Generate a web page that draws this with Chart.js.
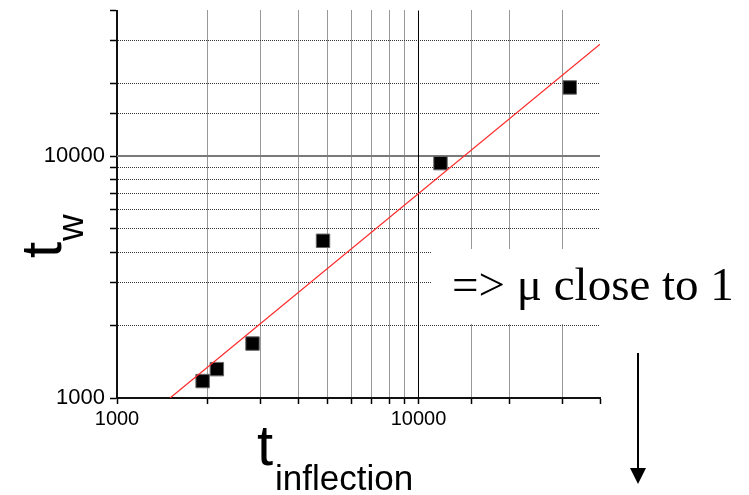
<!DOCTYPE html>
<html>
<head>
<meta charset="utf-8">
<script src="https://cdn.jsdelivr.net/npm/chart.js@4"></script>
<style>
    html, body { margin: 0; padding: 0; background: #fff; }
    canvas { display: block; }
</style>
</head>
<body>
<canvas id="twChart" width="749" height="495"></canvas>
<script>
// t_inflection vs t_w, log-log
const tInflection = [1923, 2144, 2815, 4823, 11830, 31750];
const tW = [1175, 1316, 1679, 4467, 9355, 19230];

// red fit line end points
const fitX = [1500, 40000];
const fitY = [1000, 29000];

const labeledTicks = [1000, 10000];
const axisMin = 1000;
const axisMax = 40000;

const gridColor = (ctx) => {
    const v = ctx.tick ? ctx.tick.value : null;
    if (v === axisMax || v === 10000) return "rgba(0,0,0,0)";
    return "#333";
};

const tickLabel = (value) => (labeledTicks.includes(value) ? String(value) : "");

const overlayPlugin = {
    id: "overlay",
    beforeDatasetsDraw(chart) {
        const { ctx, chartArea, scales } = chart;
        const xPos = scales.x.getPixelForValue(10000);
        const yPos = scales.y.getPixelForValue(10000);
        ctx.save();
        // solid decade lines
        ctx.strokeStyle = "#7a7a7a";
        ctx.lineWidth = 2;
        ctx.beginPath();
        ctx.moveTo(chartArea.left, yPos);
        ctx.lineTo(chartArea.right, yPos);
        ctx.stroke();
        ctx.strokeStyle = "#000";
        ctx.lineWidth = 1;
        ctx.beginPath();
        ctx.moveTo(xPos, chartArea.top);
        ctx.lineTo(xPos, chartArea.bottom);
        ctx.stroke();
        ctx.restore();
    },
    afterDraw(chart) {
        const { ctx } = chart;
        ctx.save();

        // note box
        ctx.fillStyle = "#fff";
        ctx.fillRect(432, 249, 317, 75);
        ctx.fillStyle = "#000";
        ctx.font = "47px 'Liberation Serif'";
        ctx.textBaseline = "alphabetic";
        ctx.textAlign = "left";
        ctx.fillText("=> \u03bc close to 1", 452, 300);

        // arrow
        ctx.strokeStyle = "#000";
        ctx.lineWidth = 2;
        ctx.beginPath();
        ctx.moveTo(638, 353);
        ctx.lineTo(638, 470);
        ctx.stroke();
        ctx.beginPath();
        ctx.moveTo(630, 468);
        ctx.lineTo(646, 468);
        ctx.lineTo(638, 484);
        ctx.closePath();
        ctx.fill();

        // x title
        ctx.font = "58px 'Liberation Sans'";
        ctx.fillText("t", 257, 465);
        ctx.font = "35px 'Liberation Sans'";
        ctx.fillText("inflection", 275, 490);

        // y title
        ctx.translate(61, 258);
        ctx.rotate(-Math.PI / 2);
        ctx.font = "58px 'Liberation Sans'";
        ctx.fillText("t", 0, 0);
        ctx.font = "37px 'Liberation Sans'";
        ctx.fillText("w", 17, 22);

        ctx.restore();
    },
};

Chart.defaults.font.family = "'Liberation Sans', Arial, sans-serif";
Chart.defaults.color = "#000";

new Chart(document.getElementById("twChart"), {
    data: {
        datasets: [
            {
                type: "scatter",
                data: tInflection.map((x, i) => ({ x: x, y: tW[i] })),
                pointStyle: "rect",
                pointRadius: 9.5,
                backgroundColor: "#000",
                borderColor: "#666",
                borderWidth: 1,
                order: 1,
            },
            {
                type: "line",
                data: fitX.map((x, i) => ({ x: x, y: fitY[i] })),
                borderColor: "#ff2a2a",
                borderWidth: 1.2,
                pointRadius: 0,
                fill: false,
                order: 0,
            },
        ],
    },
    options: {
        responsive: false,
        animation: false,
        layout: { padding: { top: 8, right: 149, left: 0, bottom: 0 } },
        plugins: {
            legend: { display: false },
            tooltip: { enabled: false },
        },
        scales: {
            x: {
                type: "logarithmic",
                min: axisMin,
                max: axisMax,
                afterFit: (scale) => {
                    scale.height = 97;
                    scale.paddingRight = 0;
                },
                grid: {
                    color: gridColor,
                    lineWidth: 1,
                    tickLength: 6,
                    tickColor: "#000",
                    tickWidth: 1.5,
                },
                border: { display: true, color: "#111", width: 2, dash: [1, 1] },
                ticks: {
                    autoSkip: false,
                    maxRotation: 0,
                    padding: 3,
                    font: { size: 20 },
                    callback: tickLabel,
                },
            },
            y: {
                type: "logarithmic",
                min: axisMin,
                max: axisMax,
                afterFit: (scale) => {
                    scale.width = 117;
                    scale.paddingTop = 0;
                    scale.paddingBottom = 0;
                },
                grid: {
                    color: gridColor,
                    lineWidth: 1,
                    tickLength: 7,
                    tickColor: "#000",
                    tickWidth: 1.5,
                },
                border: { display: true, color: "#111", width: 2, dash: [1, 1] },
                ticks: {
                    autoSkip: false,
                    padding: 5,
                    font: { size: 22 },
                    callback: tickLabel,
                },
            },
        },
    },
    plugins: [overlayPlugin],
});
</script>
</body>
</html>
